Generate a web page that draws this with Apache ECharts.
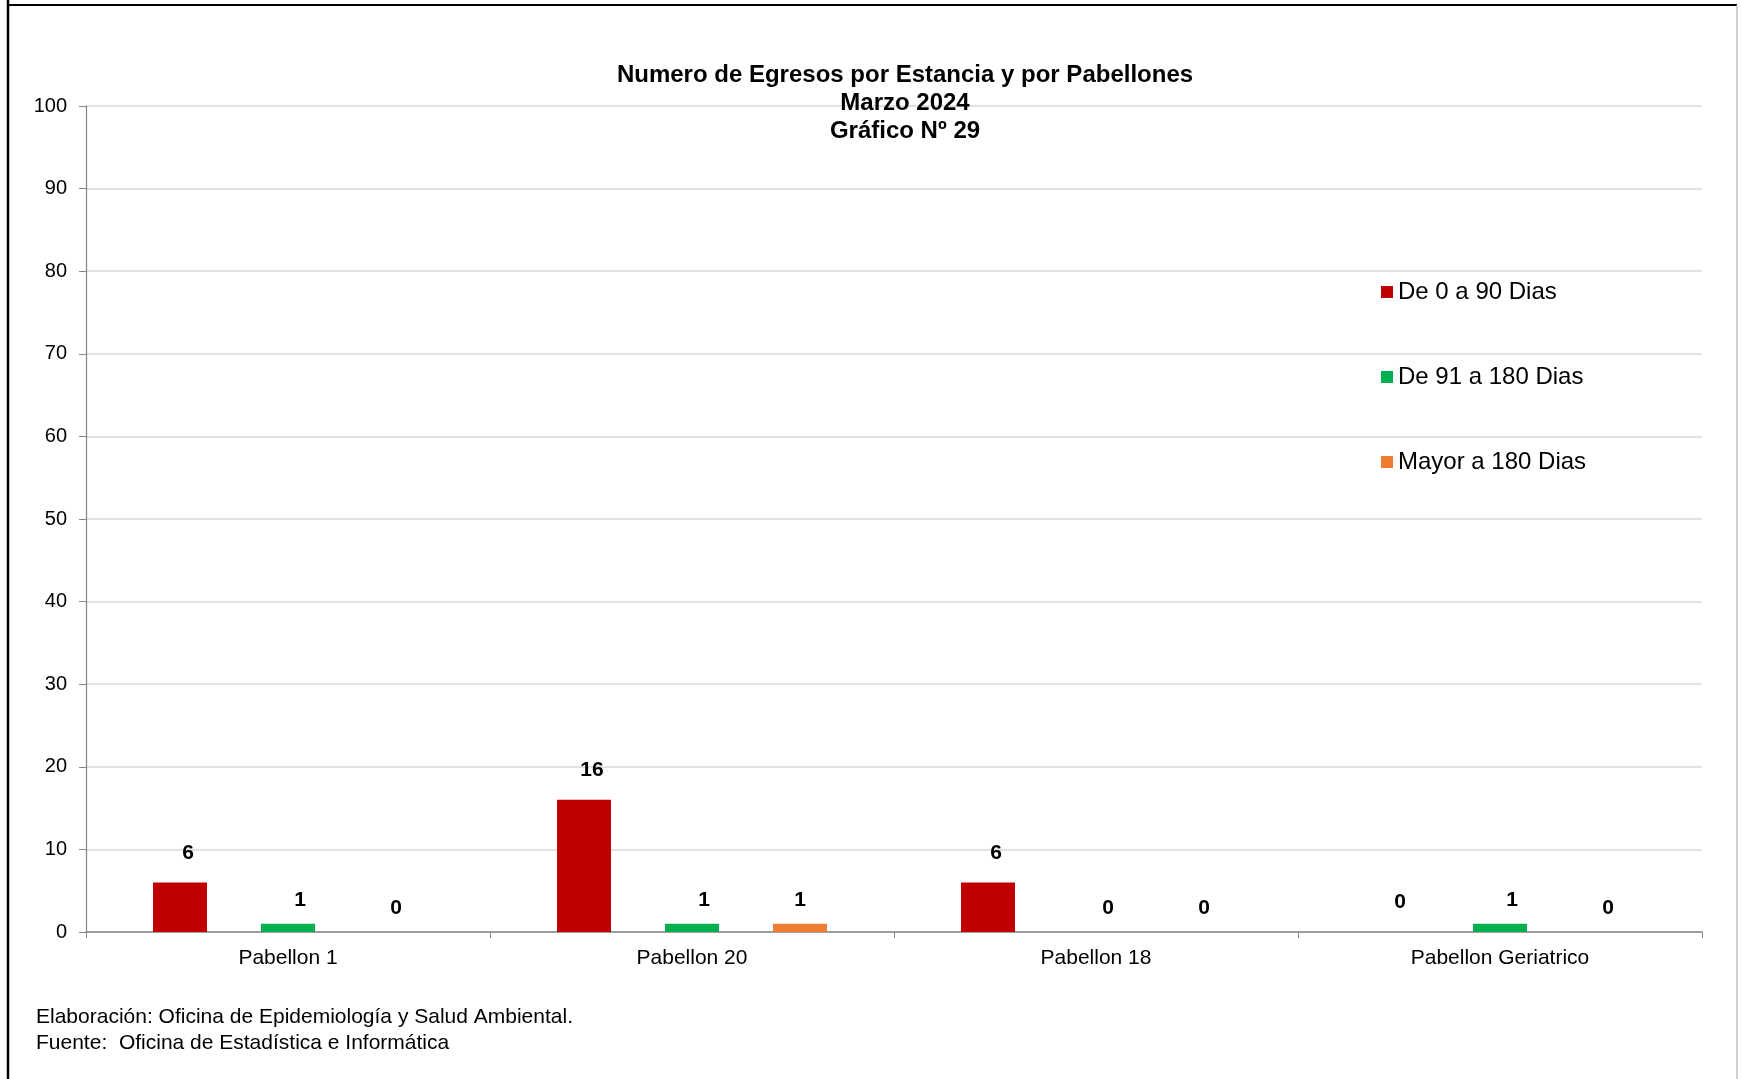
<!DOCTYPE html>
<html>
<head>
<meta charset="utf-8">
<script src="https://cdn.jsdelivr.net/npm/echarts@6/dist/echarts.min.js"></script>
<style>
html,body{margin:0;padding:0;background:#fff;}
#chart{width:1741px;height:1079px;}
</style>
</head>
<body>
<div id="chart"></div>
<script>
const categories = ['Pabellon 1', 'Pabellon 20', 'Pabellon 18', 'Pabellon Geriatrico'];
const seriesNames = ['De 0 a 90 Dias', 'De 91 a 180 Dias', 'Mayor a 180 Dias'];
const dias0a90 = [6, 16, 6, 0];
const dias91a180 = [1, 1, 0, 1];
const mayor180 = [0, 1, 0, 0];
const titleLines = ['Numero de Egresos por Estancia y por Pabellones', 'Marzo 2024', 'Gráfico Nº 29'];
const footerLines = ['Elaboración: Oficina de Epidemiología y Salud Ambiental.', 'Fuente:  Oficina de Estadística e Informática'];

const FONT = '"Liberation Sans", Arial, sans-serif';
const colors = ['#C00000', '#00B050', '#ED7D31'];
const labelOffsets = [[8, 0], [12, 0], [0, 0]];
const labelDistances = [19, 13, 13];

const chart = echarts.init(document.getElementById('chart'), null, {renderer: 'canvas'});

function makeSeries(name, data, i) {
  return {
    name: name,
    type: 'bar',
    data: data,
    barWidth: 54,
    barGap: '100%',
    itemStyle: {color: colors[i]},
    label: {
      show: true,
      position: 'top',
      distance: labelDistances[i],
      offset: labelOffsets[i],
      fontFamily: FONT,
      fontSize: 21,
      fontWeight: 'bold',
      color: '#000'
    }
  };
}

const option = {
  animation: false,
  backgroundColor: '#fff',
  title: {
    text: titleLines.join('\n'),
    left: 900,
    top: 56,
    textAlign: 'center',
    textStyle: {
      fontFamily: FONT,
      fontSize: 24,
      fontWeight: 'bold',
      color: '#000',
      lineHeight: 28
    }
  },
  legend: {
    orient: 'vertical',
    left: 1376,
    top: 274,
    itemWidth: 12,
    itemHeight: 12,
    itemGap: 59,
    icon: 'rect',
    data: seriesNames,
    textStyle: {
      fontFamily: FONT,
      fontSize: 24,
      color: '#000',
      lineHeight: 26
    }
  },
  grid: {
    left: 86,
    right: 39,
    top: 106,
    bottom: 147,
    containLabel: false
  },
  xAxis: {
    type: 'category',
    data: categories,
    boundaryGap: true,
    axisLine: {lineStyle: {color: '#868686', width: 1.5}},
    axisTick: {show: true, length: 6, lineStyle: {color: '#868686'}, alignWithLabel: false},
    axisLabel: {
      margin: 16,
      fontFamily: FONT,
      fontSize: 21,
      color: '#000'
    },
    splitLine: {show: false}
  },
  yAxis: {
    type: 'value',
    min: 0,
    max: 100,
    interval: 10,
    axisLine: {show: true, lineStyle: {color: '#868686', width: 1.2}},
    axisTick: {show: true, length: 7, lineStyle: {color: '#868686'}},
    axisLabel: {
      margin: 19,
      fontFamily: FONT,
      fontSize: 20,
      color: '#000'
    },
    splitLine: {show: true, lineStyle: {color: '#d9d9d9', width: 1.5}}
  },
  series: [
    makeSeries(seriesNames[0], dias0a90, 0),
    makeSeries(seriesNames[1], dias91a180, 1),
    makeSeries(seriesNames[2], mayor180, 2)
  ],
  graphic: [
    {type: 'line', shape: {x1: 8, y1: 0, x2: 8, y2: 1079}, style: {stroke: '#000', lineWidth: 2.5}, z: 100},
    {type: 'line', shape: {x1: 7, y1: 5, x2: 1737, y2: 5}, style: {stroke: '#000', lineWidth: 2}, z: 100},
    {type: 'line', shape: {x1: 1737, y1: 5, x2: 1737, y2: 1079}, style: {stroke: '#bfbfbf', lineWidth: 1.5}, z: 100},
    {type: 'text', left: 36, top: 1007, style: {text: footerLines[0], font: '21px ' + FONT, fill: '#000'}},
    {type: 'text', left: 36, top: 1033, style: {text: footerLines[1], font: '21px ' + FONT, fill: '#000'}}
  ]
};

chart.setOption(option);
</script>
</body>
</html>
